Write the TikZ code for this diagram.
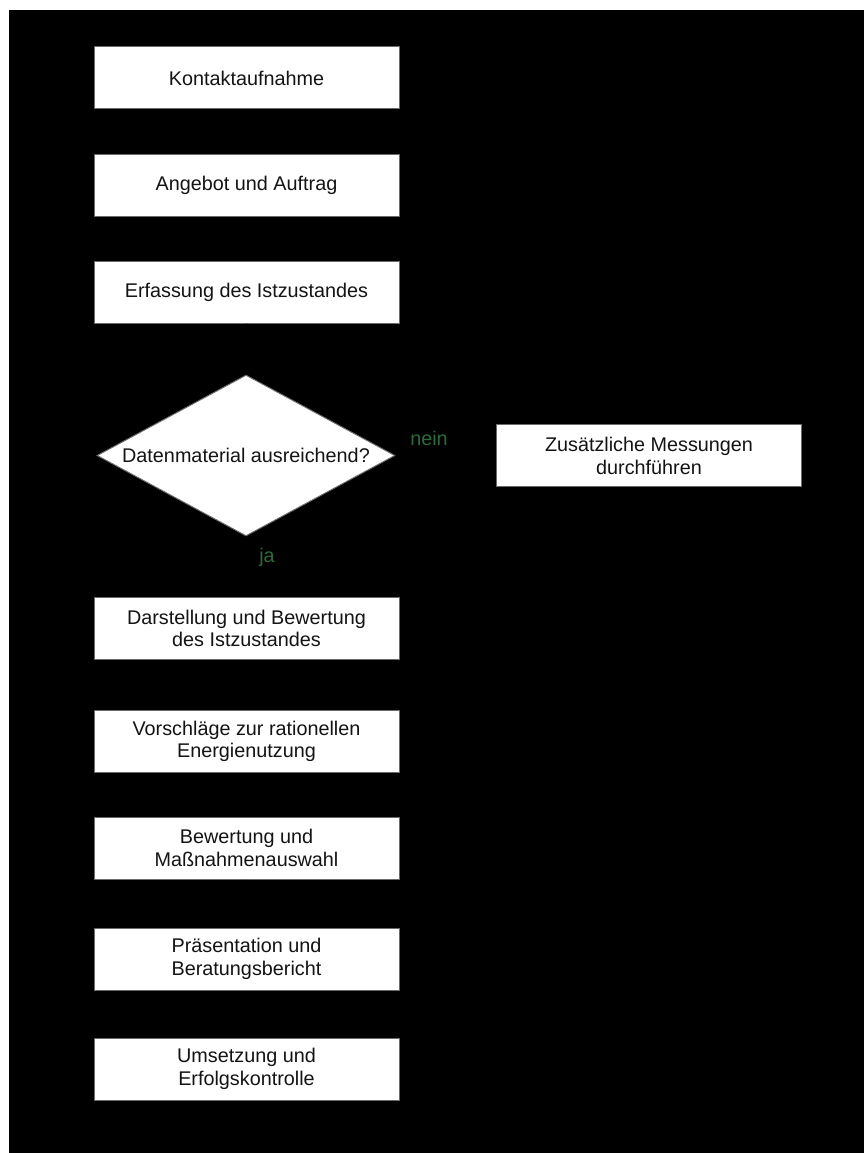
\documentclass[tikz,border=0pt]{standalone}
\usepackage{fontspec}
\setmainfont{Liberation Sans}
\usetikzlibrary{shapes.geometric,arrows.meta}
\definecolor{boxline}{HTML}{6A6A6A}
\definecolor{labelgreen}{HTML}{2F6B3A}
\begin{document}
\begin{tikzpicture}[x=1pt,y=-1pt,
  stepbox/.style={draw=boxline,line width=1pt,fill=white,minimum width=305pt,minimum height=62pt,
    inner sep=0pt,align=center,text=black!92,font=\fontsize{19.8}{22.5}\selectfont},
  decision/.style={diamond,aspect=1.85,draw=boxline,line width=1pt,fill=white,minimum width=298pt,minimum height=161pt,
    inner sep=0pt,align=center,text=black!92,font=\fontsize{19.8}{22.5}\selectfont},
  answer/.style={text=labelgreen,inner sep=0pt,font=\fontsize{19.8}{22.5}\selectfont},
  flow/.style={draw=black,line width=1pt,-{Latex[length=8pt]}}]
% page and dark backdrop
\useasboundingbox (0,0) rectangle (864,1153);
\fill[white] (0,0) rectangle (864,1153);
\fill[black] (9,10) rectangle (864,1153);

\node[stepbox] (kontakt)  at (246.5,78)    {Kontaktaufnahme};
\node[stepbox] (angebot)  at (246.5,185.5) {Angebot und Auftrag};
\node[stepbox] (erfass)   at (246.5,292)   {Erfassung des Istzustandes};
\node[decision] (daten)   at (246,455.5)   {Datenmaterial ausreichend?};
\node[stepbox] (mess)     at (649,455.7)   {Zusätzliche Messungen\\durchführen};
\node[stepbox] (darst)    at (246.5,628.5) {Darstellung und Bewertung\\des Istzustandes};
\node[stepbox] (vorschl)  at (246.5,741.5) {Vorschläge zur rationellen\\Energienutzung};
\node[stepbox] (bewert)   at (246.5,848)   {Bewertung und\\Maßnahmenauswahl};
\node[stepbox] (praes)    at (246.5,959)   {Präsentation und\\Beratungsbericht};
\node[stepbox] (umsetz)   at (246.5,1069)  {Umsetzung und\\Erfolgskontrolle};

\node[answer] (nein) at (429,438) {nein};
\node[answer] (ja)   at (267,557) {ja};

% connectors
\draw[flow] (kontakt) -- (angebot);
\draw[flow] (angebot) -- (erfass);
\draw[flow] (erfass) -- (daten);
\draw[flow] (daten.east) -- (mess.west);
\draw[flow] (daten.south) -- (darst);
\draw[flow] (darst) -- (vorschl);
\draw[flow] (vorschl) -- (bewert);
\draw[flow] (bewert) -- (praes);
\draw[flow] (praes) -- (umsetz);
\end{tikzpicture}
\end{document}
